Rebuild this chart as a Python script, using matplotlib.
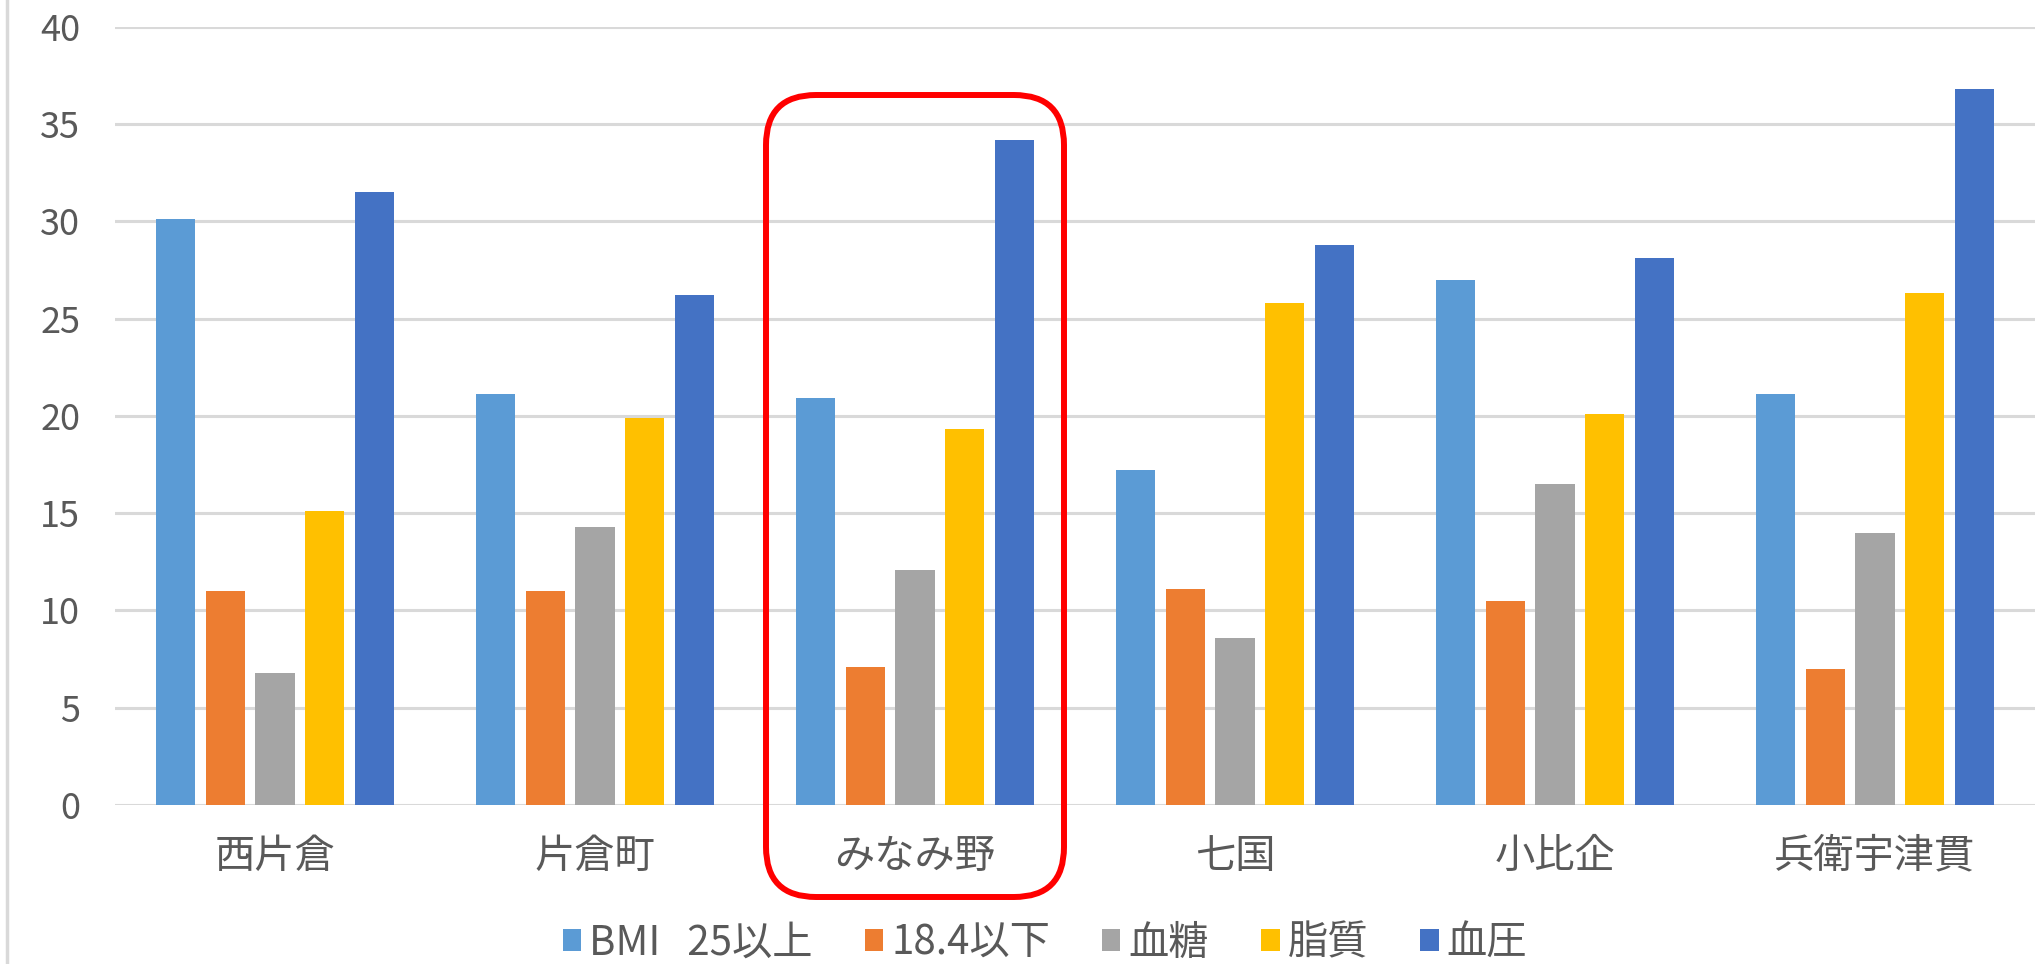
import matplotlib.pyplot as plt
import numpy as np
from matplotlib.patches import FancyBboxPatch, Patch
from matplotlib.lines import Line2D

plt.rcParams['font.family'] = ['Noto Sans CJK JP', 'DejaVu Sans']

areas = ["西片倉", "片倉町", "みなみ野", "七国", "小比企", "兵衛宇津貫"]
series = ["BMI   25以上", "18.4以下", "血糖", "脂質", "血圧"]
bmi_over25 = [30.1, 21.1, 20.9, 17.2, 27.0, 21.1]
bmi_under18 = [11.0, 11.0, 7.1, 11.1, 10.5, 7.0]
blood_sugar = [6.8, 14.3, 12.1, 8.6, 16.5, 14.0]
lipid = [15.1, 19.9, 19.3, 25.8, 20.1, 26.3]
blood_pressure = [31.5, 26.2, 34.2, 28.8, 28.1, 36.8]
colors = ["#5B9BD5", "#ED7D31", "#A5A5A5", "#FFC000", "#4472C4"]

values = [bmi_over25, bmi_under18, blood_sugar, lipid, blood_pressure]
text_color = "#595959"
grid_color = "#D9D9D9"

fig = plt.figure(figsize=(20.35, 9.64), dpi=100)
ax = fig.add_axes([115 / 2035, 159 / 964, 1 - 115 / 2035, (805 - 26.7) / 964])

x = np.arange(len(areas))
step = 0.155
width = 0.122
for i, (vals, c) in enumerate(zip(values, colors)):
    ax.bar(x + (i - 2) * step, vals, width, color=c, zorder=3)

ax.set_xlim(-0.5, len(areas) - 0.5)
ax.set_ylim(0, 40)
ax.set_yticks(range(0, 41, 5))
ax.set_xticks(x)
ax.set_xticklabels(areas)
ax.yaxis.grid(True, color=grid_color, linewidth=2.2)
ax.set_axisbelow(True)
for s in ["top", "right", "left", "bottom"]:
    ax.spines[s].set_visible(False)
ax.tick_params(axis="both", length=0, colors=text_color)
ax.tick_params(axis="y", labelsize=26, pad=25)
ax.tick_params(axis="x", labelsize=29, pad=22)

# chart frame left edge
fig.add_artist(Line2D([6.5 / 2035, 6.5 / 2035], [0, 1], color=grid_color,
                      linewidth=2.5, transform=fig.transFigure))

handles = [Patch(facecolor=c) for c in colors]
fig.legend(handles, series, loc="center", bbox_to_anchor=(1045 / 2035, 1 - 943 / 964),
           ncol=5, frameon=False, fontsize=29, labelcolor=text_color,
           handlelength=0.45, handleheight=0.45, handletextpad=0.2,
           columnspacing=1.3, borderpad=0)

# red highlight around みなみ野
box = FancyBboxPatch((7.66, 0.67), 2.98, 8.02,
                     boxstyle="round,pad=0,rounding_size=0.5",
                     transform=fig.dpi_scale_trans, fill=False,
                     edgecolor="#FF0000", linewidth=4.3)
fig.add_artist(box)

fig.savefig("out.png", dpi=100)
